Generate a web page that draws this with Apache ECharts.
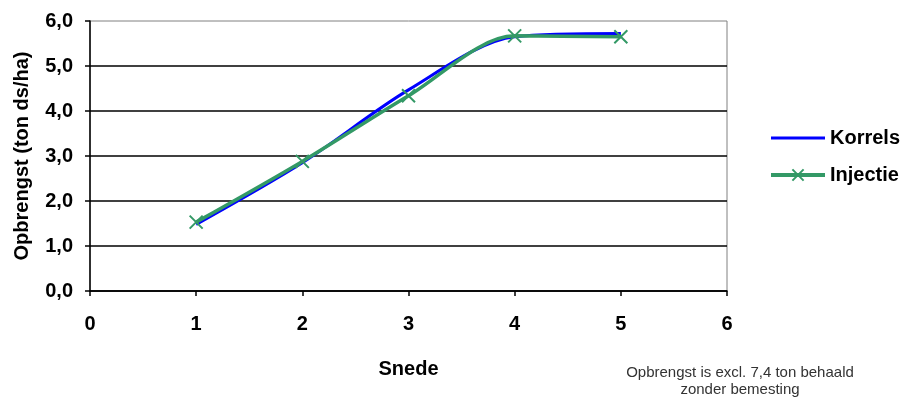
<!DOCTYPE html>
<html>
<head>
<meta charset="utf-8">
<script src="https://cdn.jsdelivr.net/npm/echarts@6/dist/echarts.min.js"></script>
<style>
  html, body { margin: 0; padding: 0; background: #fff; }
  #chart { width: 901px; height: 399px; }
</style>
</head>
<body>
<div id="chart"></div>
<script>
var snede = [1, 2, 3, 4, 5];
var korrels = [1.48, 2.85, 4.47, 5.65, 5.72];
var injectie = [1.53, 2.88, 4.34, 5.67, 5.65];

function pairs(xs, ys) {
    var res = [];
    for (var i = 0; i < xs.length; i++) res.push([xs[i], ys[i]]);
    return res;
}

var dom = document.getElementById("chart");
var myChart = echarts.init(dom);
var font = 'Liberation Sans, Arial, sans-serif';
var option = {
    animation: false,
    grid: {
        left: 90, top: 21, right: 174, bottom: 108,
        show: true,
        borderColor: '#808080',
        borderWidth: 1
    },
    legend: {
        orient: 'vertical',
        left: 764,
        top: 123,
        itemWidth: 54,
        itemHeight: 14,
        itemGap: 17,
        textStyle: { fontFamily: font, fontWeight: 'bold', fontSize: 20, color: '#000' },
        data: [
            // plain line icon for Korrels (corner dots keep the box 54x14)
            {
                name: 'Korrels',
                icon: 'path://M0,0L0.01,0M0,5.5L54,5.5L54,8.5L0,8.5ZM0,14L0.01,14',
                itemStyle: { color: '#0000ff', borderWidth: 0 }
            },
            {
                name: 'Injectie',
                lineStyle: { width: 4, color: '#339966' }
            }
        ]
    },
    xAxis: {
        type: 'value',
        min: 0, max: 6, interval: 1,
        name: 'Snede',
        nameLocation: 'middle',
        nameGap: 68,
        nameTextStyle: { fontFamily: font, fontWeight: 'bold', fontSize: 20, color: '#000' },
        axisLine: { lineStyle: { color: '#000', width: 1.5 } },
        axisTick: { show: true, length: 5, lineStyle: { color: '#000', width: 1.5 } },
        axisLabel: { fontFamily: font, fontWeight: 'bold', fontSize: 20, color: '#000', margin: 23 },
        splitLine: { show: false }
    },
    yAxis: {
        type: 'value',
        min: 0, max: 6, interval: 1,
        name: 'Opbrengst (ton ds/ha)',
        nameLocation: 'middle',
        nameGap: 58,
        nameTextStyle: { fontFamily: font, fontWeight: 'bold', fontSize: 20, color: '#000' },
        axisLine: { show: true, lineStyle: { color: '#000', width: 1.5 } },
        axisTick: { show: true, length: 5, lineStyle: { color: '#000', width: 1.5 } },
        axisLabel: {
            fontFamily: font, fontWeight: 'bold', fontSize: 20, color: '#000', margin: 17,
            formatter: function (v) { return v.toFixed(1).replace('.', ','); }
        },
        splitLine: { show: true, showMaxLine: false, lineStyle: { color: '#000', width: 1.5 } }
    },
    series: [
        {
            name: 'Korrels',
            type: 'line',
            smooth: 0.3,
            symbol: 'none',
            color: '#0000ff',
            lineStyle: { width: 3, color: '#0000ff' },
            data: pairs(snede, korrels)
        },
        {
            name: 'Injectie',
            type: 'line',
            smooth: 0.3,
            symbol: 'path://M0,0L10,10M10,0L0,10',
            symbolSize: 13,
            showAllSymbol: true,
            color: '#339966',
            itemStyle: { color: 'none', borderColor: '#339966', borderWidth: 2 },
            lineStyle: { width: 3.5, color: '#339966' },
            data: pairs(snede, injectie)
        }
    ],
    graphic: [
        {
            type: 'text',
            left: 740 - 130, top: 364,
            style: {
                text: 'Opbrengst is excl. 7,4 ton behaald\nzonder bemesting',
                width: 260,
                align: 'center',
                textAlign: 'center',
                x: 130,
                font: '15px Liberation Sans, Arial, sans-serif',
                fill: '#333',
                lineHeight: 17
            }
        }
    ]
};
if (option && typeof option === "object") {
    myChart.setOption(option, true);
}
</script>
</body>
</html>
